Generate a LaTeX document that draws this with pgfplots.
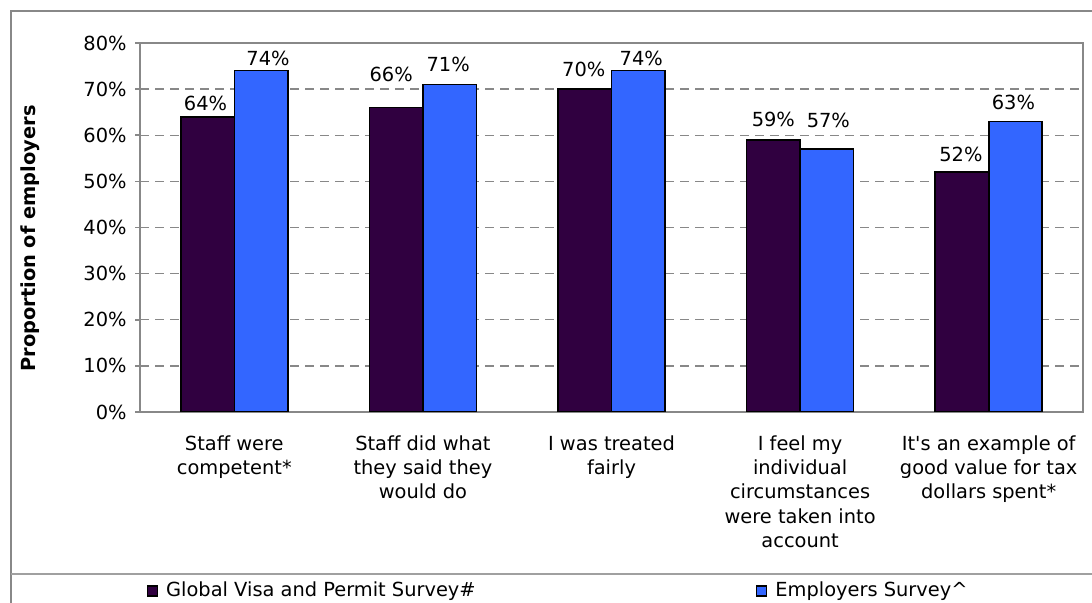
\documentclass[border=0pt]{standalone}
\usepackage{fontspec}
\setmainfont{DejaVu Sans}
\usepackage{pgfplots}
\usepackage{pgfplotstable}
\pgfplotsset{compat=1.18}
\definecolor{gvcol}{RGB}{48,0,64}
\definecolor{escol}{RGB}{51,102,255}
\definecolor{framegray}{RGB}{136,136,136}
\pgfplotstableread{
x gv gvoff gvx es esoff esx
0 64 2.5 -1 74 2 3.5
1 66 12.5 -2.5 71 6 -0.75
2 70 6 -0.5 74 2 1.5
3 59 6 0 57 10.5 0.75
4 52 5 -0.5 63 5.5 -1
}\data
\begin{document}
\begin{tikzpicture}[x=1pt,y=1pt]
\useasboundingbox (0,0) rectangle (546,301.5);
\clip (0,0) rectangle (546,301.5);
\fill[white] (0,0) rectangle (546,301.5);
\draw[framegray, line width=1pt] (5.5,-5) -- (5.5,296) -- (560,296);
\draw[framegray!80, line width=0.6pt] (5.5,14.5) -- (560,14.5);
\begin{axis}[
  at={(70pt,95.5pt)}, anchor=south west,
  scale only axis, width=471.5pt, height=184.5pt,
  font=\fontsize{9.7pt}{12.15pt}\selectfont,
  /pgf/number format/assume math mode=true,
  ybar=0pt, bar width=26.75pt,
  xmin=-0.5, xmax=4.5, ymin=0, ymax=80,
  xtick=data,
  xticklabels={{Staff were\\competent*},{Staff did what\\they said they\\would do},{I was treated\\fairly},{I feel my\\individual\\circumstances\\were taken into\\account},{It\textquotesingle s an example of\\good value for tax\\dollars spent*}},
  xticklabel style={align=center, anchor=north, inner sep=0pt, yshift=-9pt},
  x tick style={draw=none},
  ytick={0,10,...,80},
  yticklabel={\pgfmathprintnumber{\tick}\%},
  yticklabel style={anchor=east, inner sep=0pt, xshift=-4pt},
  ytick pos=left, tick align=outside, major tick length=2.5pt,
  y tick style={framegray, line width=0.8pt},
  axis line style={framegray, line width=0.9pt},
  ymajorgrids, grid style={framegray, dash pattern=on 4.5pt off 3pt, line width=0.7pt},
  ylabel={\bfseries Proportion of employers},
  ylabel style={at={(axis description cs:-0.1161,0.470)}, anchor=center, rotate=0},
  nodes near coords={\pgfmathprintnumber{\pgfplotspointmeta}\%},
  point meta=y,
  legend style={at={(axis description cs:0.00742,-0.4851)}, anchor=west, draw=none, fill=none, inner sep=0pt, outer sep=0pt, legend columns=2, nodes={inner sep=0pt}, /tikz/every odd column/.append style={column sep=4pt}},
  legend cell align=left,
  legend image code/.code={\draw[#1, draw=black, line width=0.6pt] (0pt,-2.5pt) rectangle (5pt,2.5pt);},
]
\addplot[fill=gvcol, draw=black, line width=0.8pt,
  visualization depends on={\thisrow{gvoff} \as \myoff},
  visualization depends on={\thisrow{gvx} \as \myxoff},
  every node near coord/.append style={anchor=south, inner sep=0pt, yshift=\myoff pt, xshift=\myxoff pt, black}]
  table[x=x, y=gv] {\data};
\addlegendentry{\makebox[295pt][l]{Global Visa and Permit Survey\#}}
\addplot[fill=escol, draw=black, line width=0.8pt,
  visualization depends on={\thisrow{esoff} \as \myoff},
  visualization depends on={\thisrow{esx} \as \myxoff},
  every node near coord/.append style={anchor=south, inner sep=0pt, yshift=\myoff pt, xshift=\myxoff pt, black}]
  table[x=x, y=es] {\data};
\addlegendentry{Employers Survey\^{}}
\end{axis}
\end{tikzpicture}
\end{document}
